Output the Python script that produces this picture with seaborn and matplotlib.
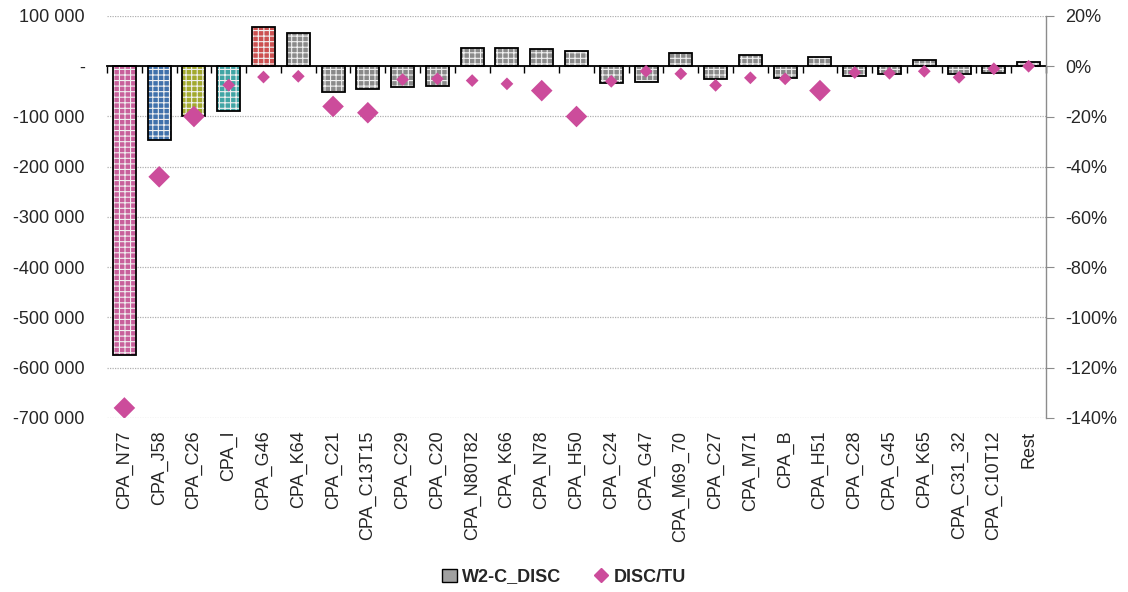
import numpy as np
import pandas as pd
import matplotlib
matplotlib.use("Agg")
import matplotlib.pyplot as plt
import seaborn as sns
from matplotlib.patches import Patch
from matplotlib.lines import Line2D
from matplotlib.ticker import FuncFormatter, FixedLocator

categories = ["CPA_N77", "CPA_J58", "CPA_C26", "CPA_I", "CPA_G46", "CPA_K64", "CPA_C21",
              "CPA_C13T15", "CPA_C29", "CPA_C20", "CPA_N80T82", "CPA_K66", "CPA_N78", "CPA_H50",
              "CPA_C24", "CPA_G47", "CPA_M69_70", "CPA_C27", "CPA_M71", "CPA_B", "CPA_H51",
              "CPA_C28", "CPA_G45", "CPA_K65", "CPA_C31_32", "CPA_C10T12", "Rest"]
w2c_disc = [-575000, -147000, -99000, -90000, 78000, 66000, -51000,
            -45000, -42000, -40000, 36000, 36000, 34000, 30000,
            -33000, -32000, 27000, -26000, 22000, -23000, 18000,
            -19000, -15000, 12000, -15000, -14000, 9000]
disc_tu = [-136.0, -44.0, -20.0, -7.5, -4.3, -4.0, -16.0,
           -18.5, -5.3, -5.0, -5.7, -7.0, -9.7, -20.0,
           -6.0, -2.0, -3.0, -7.6, -4.6, -5.0, -9.7,
           -2.5, -2.8, -2.0, -4.4, -1.0, 0.0]
bar_colors = ["#d94f9e", "#2e6fbd", "#b4bd1a", "#30b6b6", "#e03c3c"] + ["#8a8a8a"] * 22
big_threshold = -9.0

df = pd.DataFrame({"cat": categories, "val": w2c_disc, "pct": disc_tu})
df["idx"] = np.arange(len(df))

sns.set_style("white")
plt.rcParams['font.family'] = ['Liberation Sans', 'DejaVu Sans']
plt.rcParams['hatch.linewidth'] = 0.8

fig = plt.figure(figsize=(11.28, 5.92), dpi=100)
ax = fig.add_axes([107/1128, 1 - 418/592, (1046-107)/1128, (418-16)/592])

sns.barplot(data=df, x="cat", y="val", hue="cat", palette=bar_colors, width=0.66,
            legend=False, ax=ax, order=categories, hue_order=categories, zorder=2)
for p in ax.patches:
    p.set_hatch("+++")
    p.set_edgecolor("#f0f0f0")
    p.set_linewidth(0)
sns.barplot(data=df, x="cat", y="val", fill=False, color="black", width=0.66,
            linewidth=1.3, ax=ax, order=categories, zorder=3, err_kws={'linewidth': 0})

ax.set_xlim(-0.5, len(categories) - 0.5)
ax.set_ylim(-700000, 100000)
ax.set_yticks(np.arange(-700000, 100001, 100000))
ax.yaxis.set_major_formatter(FuncFormatter(lambda v, p: "-" if v == 0 else f"{int(v):,}".replace(",", " ")))
ax.grid(axis="y", linestyle=(0, (1, 1)), color="#b0b0b0", linewidth=0.9)
ax.set_axisbelow(True)
for s in ["left", "bottom", "right"]:
    ax.spines[s].set_visible(False)
ax.spines["top"].set_position(("data", 0))
ax.spines["top"].set_color("black")
ax.spines["top"].set_linewidth(1.3)
ax.spines["top"].set_zorder(4)
ax.xaxis.set_minor_locator(FixedLocator(np.arange(len(categories) + 1) - 0.5))
ax.tick_params(axis="x", which="minor", top=True, bottom=False, direction="in", length=5, width=1, color="black")
ax.tick_params(axis="x", which="major", top=False, bottom=True, length=0, pad=9, labelsize=13, rotation=90)
ax.tick_params(axis="y", length=0, pad=16, labelsize=13)
ax.set_xlabel("")
ax.set_ylabel("")

ax2 = ax.twinx()
sizes = [11 if v <= big_threshold else 6.5 for v in disc_tu]
ax2.set_ylim(-140, 20)
ax2.set_yticks(np.arange(-140, 21, 20))
ax2.yaxis.set_major_formatter(FuncFormatter(lambda v, p: f"{v:.0f}%"))
sns.scatterplot(x=df["idx"], y=df["pct"], marker="D", color="#cc4c9b", s=np.array(sizes) ** 2,
                linewidth=0, ax=ax2, legend=False, zorder=5)
ax2.set_xlim(-0.5, len(categories) - 0.5)
for s in ["left", "bottom", "top"]:
    ax2.spines[s].set_visible(False)
ax2.spines["right"].set_color("#8c8c8c")
ax2.spines["right"].set_linewidth(1.0)
ax2.tick_params(axis="y", direction="out", length=6, color="#8c8c8c", pad=8, labelsize=13)
ax2.set_xlabel("")
ax2.set_ylabel("")

handles = [Patch(facecolor="#a0a0a0", edgecolor="black", linewidth=1),
           Line2D([], [], marker="D", color="#cc4c9b", linestyle="none", markersize=7)]
fig.legend(handles, ["W2-C_DISC", "DISC/TU"], loc="center", bbox_to_anchor=(0.5, 1 - 577/592),
           ncol=2, frameon=False, prop={'weight': 'bold', 'size': 13}, handlelength=0.8,
           handletextpad=0.3, columnspacing=1.8)

fig.savefig("out.png", dpi=100)
